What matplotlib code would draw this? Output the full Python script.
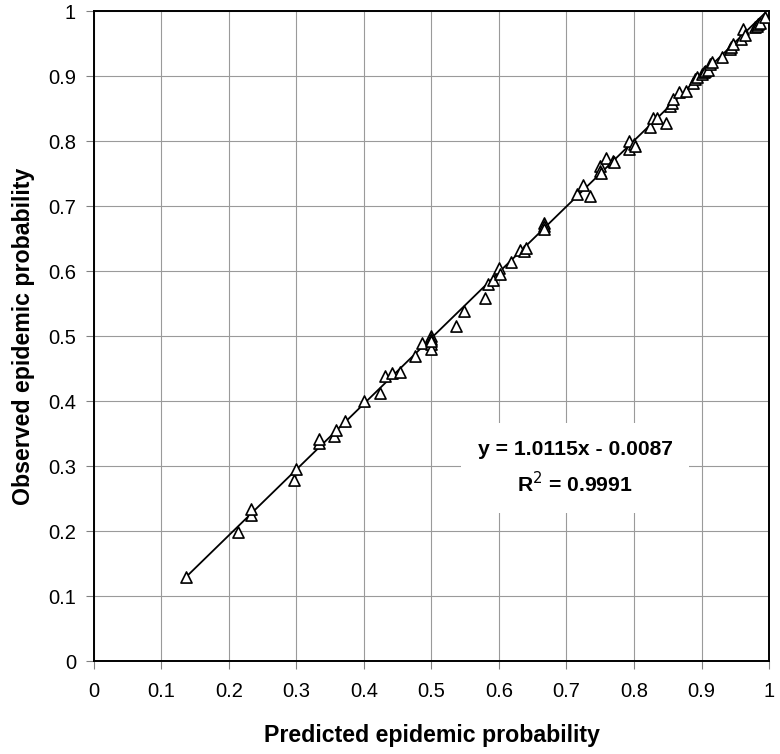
import numpy as np
from matplotlib import pyplot as plt

pred = [0.136, 0.213, 0.232, 0.233, 0.296, 0.300, 0.333, 0.333, 0.355, 0.359,
        0.372, 0.400, 0.424, 0.431, 0.442, 0.454, 0.475, 0.486, 0.500, 0.500,
        0.500, 0.500, 0.500, 0.537, 0.548, 0.579, 0.583, 0.591, 0.600, 0.601,
        0.618, 0.631, 0.637, 0.640, 0.667, 0.667, 0.667, 0.715, 0.724, 0.735,
        0.750, 0.750, 0.751, 0.759, 0.769, 0.770, 0.792, 0.792, 0.800, 0.801,
        0.824, 0.828, 0.834, 0.848, 0.853, 0.856, 0.858, 0.866, 0.877, 0.888,
        0.890, 0.893, 0.900, 0.903, 0.905, 0.909, 0.913, 0.915, 0.930, 0.942,
        0.944, 0.947, 0.959, 0.962, 0.964, 0.979, 0.982, 0.984, 0.987, 0.994]
obs = [0.130, 0.198, 0.225, 0.234, 0.279, 0.295, 0.335, 0.342, 0.346, 0.356,
       0.370, 0.400, 0.412, 0.438, 0.443, 0.444, 0.469, 0.489, 0.500, 0.495,
       0.488, 0.480, 0.492, 0.516, 0.539, 0.559, 0.580, 0.586, 0.605, 0.595,
       0.614, 0.633, 0.631, 0.636, 0.674, 0.669, 0.664, 0.718, 0.733, 0.715,
       0.762, 0.754, 0.751, 0.774, 0.769, 0.767, 0.788, 0.800, 0.795, 0.792,
       0.821, 0.835, 0.836, 0.827, 0.854, 0.859, 0.864, 0.875, 0.877, 0.890,
       0.895, 0.898, 0.903, 0.906, 0.908, 0.910, 0.918, 0.921, 0.929, 0.941,
       0.944, 0.949, 0.957, 0.972, 0.963, 0.976, 0.977, 0.980, 0.982, 0.991]

slope = 1.0115
intercept = -0.0087
r2 = 0.9991

plt.rcParams['font.family'] = ['Liberation Sans', 'DejaVu Sans']

fig = plt.figure(figsize=(7.8, 7.54), dpi=100)
ax = fig.add_axes([0.1205, 0.1233, 0.8654, 0.8621])

ax.grid(True, color='#9a9a9a', linewidth=0.8)
ax.set_axisbelow(True)

xs = np.array([min(pred), max(pred)])
ax.plot(xs, slope * xs + intercept, color='black', linewidth=1.3, zorder=2)
ax.scatter(pred, obs, marker='^', s=64, facecolors='white', edgecolors='black',
           linewidths=1.2, zorder=3)

ax.set_xlim(0, 1)
ax.set_ylim(0, 1)
ticks = np.round(np.arange(0, 1.01, 0.1), 1)
labels = ['0'] + ['%.1f' % t for t in ticks[1:-1]] + ['1']
ax.set_xticks(ticks)
ax.set_xticklabels(labels)
ax.set_yticks(ticks)
ax.set_yticklabels(labels)
ax.tick_params(direction='out', length=6, width=0.8, color='#808080',
               labelsize=14.5)
ax.tick_params(axis='x', pad=9)
ax.tick_params(axis='y', pad=7)
for s in ax.spines.values():
    s.set_linewidth(1.4)

ax.set_xlabel('Predicted epidemic probability', fontsize=16.7,
              fontweight='bold', labelpad=17)
ax.set_ylabel('Observed epidemic probability', fontsize=16.7,
              fontweight='bold', labelpad=9)

ax.text(0.713, 0.297, 'y = %.4fx - %.4f\nR$^2$ = %.4f' % (slope, -intercept, r2),
        ha='center', va='center', fontsize=15.2, fontweight='bold',
        linespacing=1.6, zorder=4,
        bbox=dict(facecolor='white', edgecolor='none', pad=12))

fig.savefig('out.png', dpi=100)
